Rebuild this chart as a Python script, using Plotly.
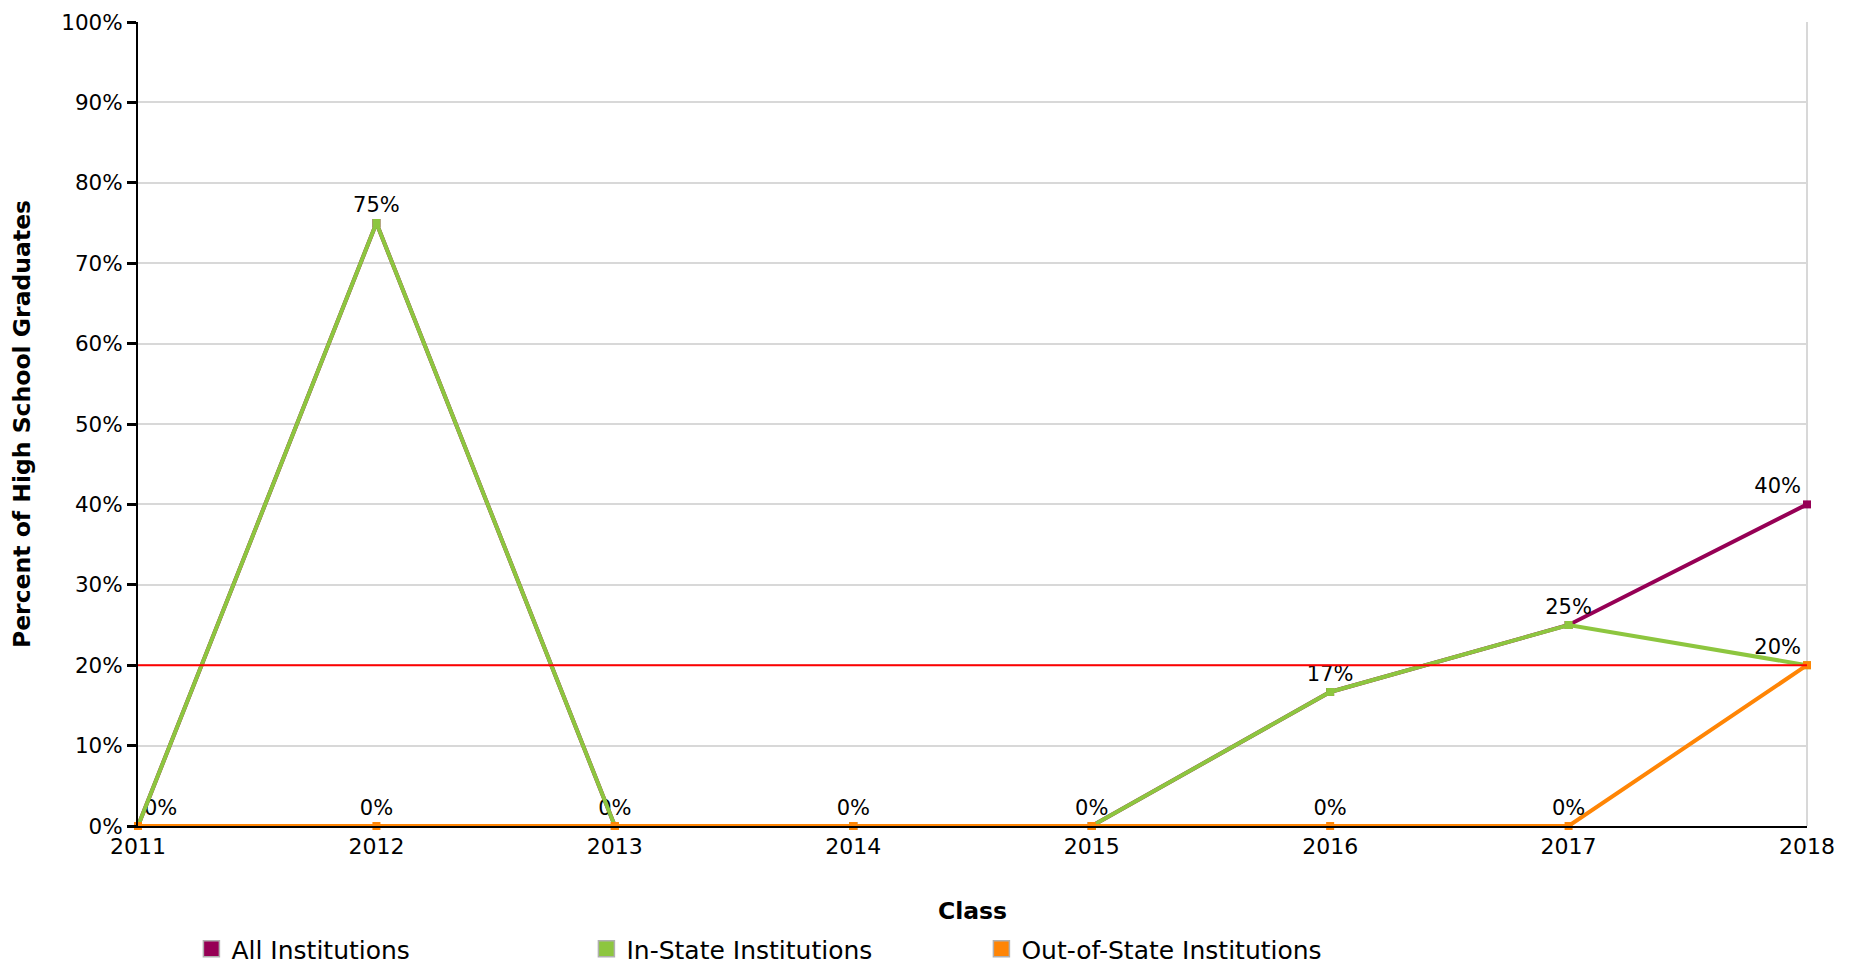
import plotly.graph_objects as go

years = [2011, 2012, 2013, 2014, 2015, 2016, 2017, 2018]
all_inst = [0, 75, 0, 0, 0, 16.67, 25, 40]
in_state = [0, 75, 0, 0, 0, 16.67, 25, 20]
out_state = [0, 0, 0, 0, 0, 0, 0, 20]
benchmark = 20

names = ["All Institutions", "In-State Institutions", "Out-of-State Institutions"]
colors = ["#960055", "#8DC63F", "#FF8505"]
FONT = "DejaVu Sans"

def pct(v):
    return f"{round(v)}%"

def pos(i):
    if i == 0:
        return "top right"
    if i == len(years) - 1:
        return "top left"
    return "top center"

fig = go.Figure()

series = [all_inst, in_state, out_state]
texts = [
    [pct(v) for v in all_inst],
    ["" for v in in_state],
    [pct(o) if abs(o - a) > 3 else "" for o, a in zip(out_state, all_inst)],
]

for name, vals, col, txt in zip(names, series, colors, texts):
    fig.add_trace(go.Scatter(
        x=years, y=vals, mode="lines+markers+text", name=name,
        line=dict(color=col, width=4),
        marker=dict(color=col, size=8, symbol="square"),
        text=txt, textposition=[pos(i) for i in range(len(years))],
        textfont=dict(family=FONT, size=21, color="#000000"),
        cliponaxis=False, showlegend=False,
    ))

for name, col in zip(names, colors):
    fig.add_trace(go.Scatter(
        x=[None], y=[None], mode="markers", name=name,
        marker=dict(color=col, size=20, symbol="square", line=dict(color="#b0b0b0", width=1.5)),
        showlegend=True,
    ))

fig.add_shape(type="line", xref="paper", yref="y", x0=0, x1=1, y0=benchmark, y1=benchmark,
              line=dict(color="#FF0000", width=2), layer="above")
fig.add_shape(type="line", xref="paper", yref="paper", x0=1, x1=1, y0=0, y1=1,
              line=dict(color="#d8d8d8", width=2), layer="below")

fig.update_layout(
    width=1850, height=958,
    margin=dict(l=130, r=51, t=14, b=140, autoexpand=False),
    paper_bgcolor="white", plot_bgcolor="white",
    font=dict(family=FONT, size=22, color="#000000"),
    xaxis=dict(
        range=[years[0], years[-1]], tickvals=years, ticktext=[str(y) for y in years],
        showgrid=False, zeroline=False, showline=True, linecolor="#000000", linewidth=2,
        ticks="", tickfont=dict(family=FONT, size=22), automargin=False,
        ticklabeloverflow="allow",
        title=dict(text="<b>Class</b>", font=dict(family=FONT, size=23.5), standoff=44),
    ),
    yaxis=dict(
        range=[0, 100], dtick=10, ticksuffix="%",
        showgrid=True, gridcolor="#d8d8d8", gridwidth=2, zeroline=False,
        showline=True, linecolor="#000000", linewidth=2,
        ticks="outside", ticklen=9, tickwidth=3, tickcolor="#000000",
        tickfont=dict(family=FONT, size=21.5), automargin=False,
        ticklabeloverflow="allow",
        title=dict(text="<b>Percent of High School Graduates</b>", font=dict(family=FONT, size=23.5), standoff=37),
    ),
    legend=dict(
        orientation="h", x=0.032, xanchor="left", y=-0.1245, yanchor="top",
        entrywidth=350, entrywidthmode="pixels",
        font=dict(family=FONT, size=25),
    ),
)

fig.write_html("out.html")
